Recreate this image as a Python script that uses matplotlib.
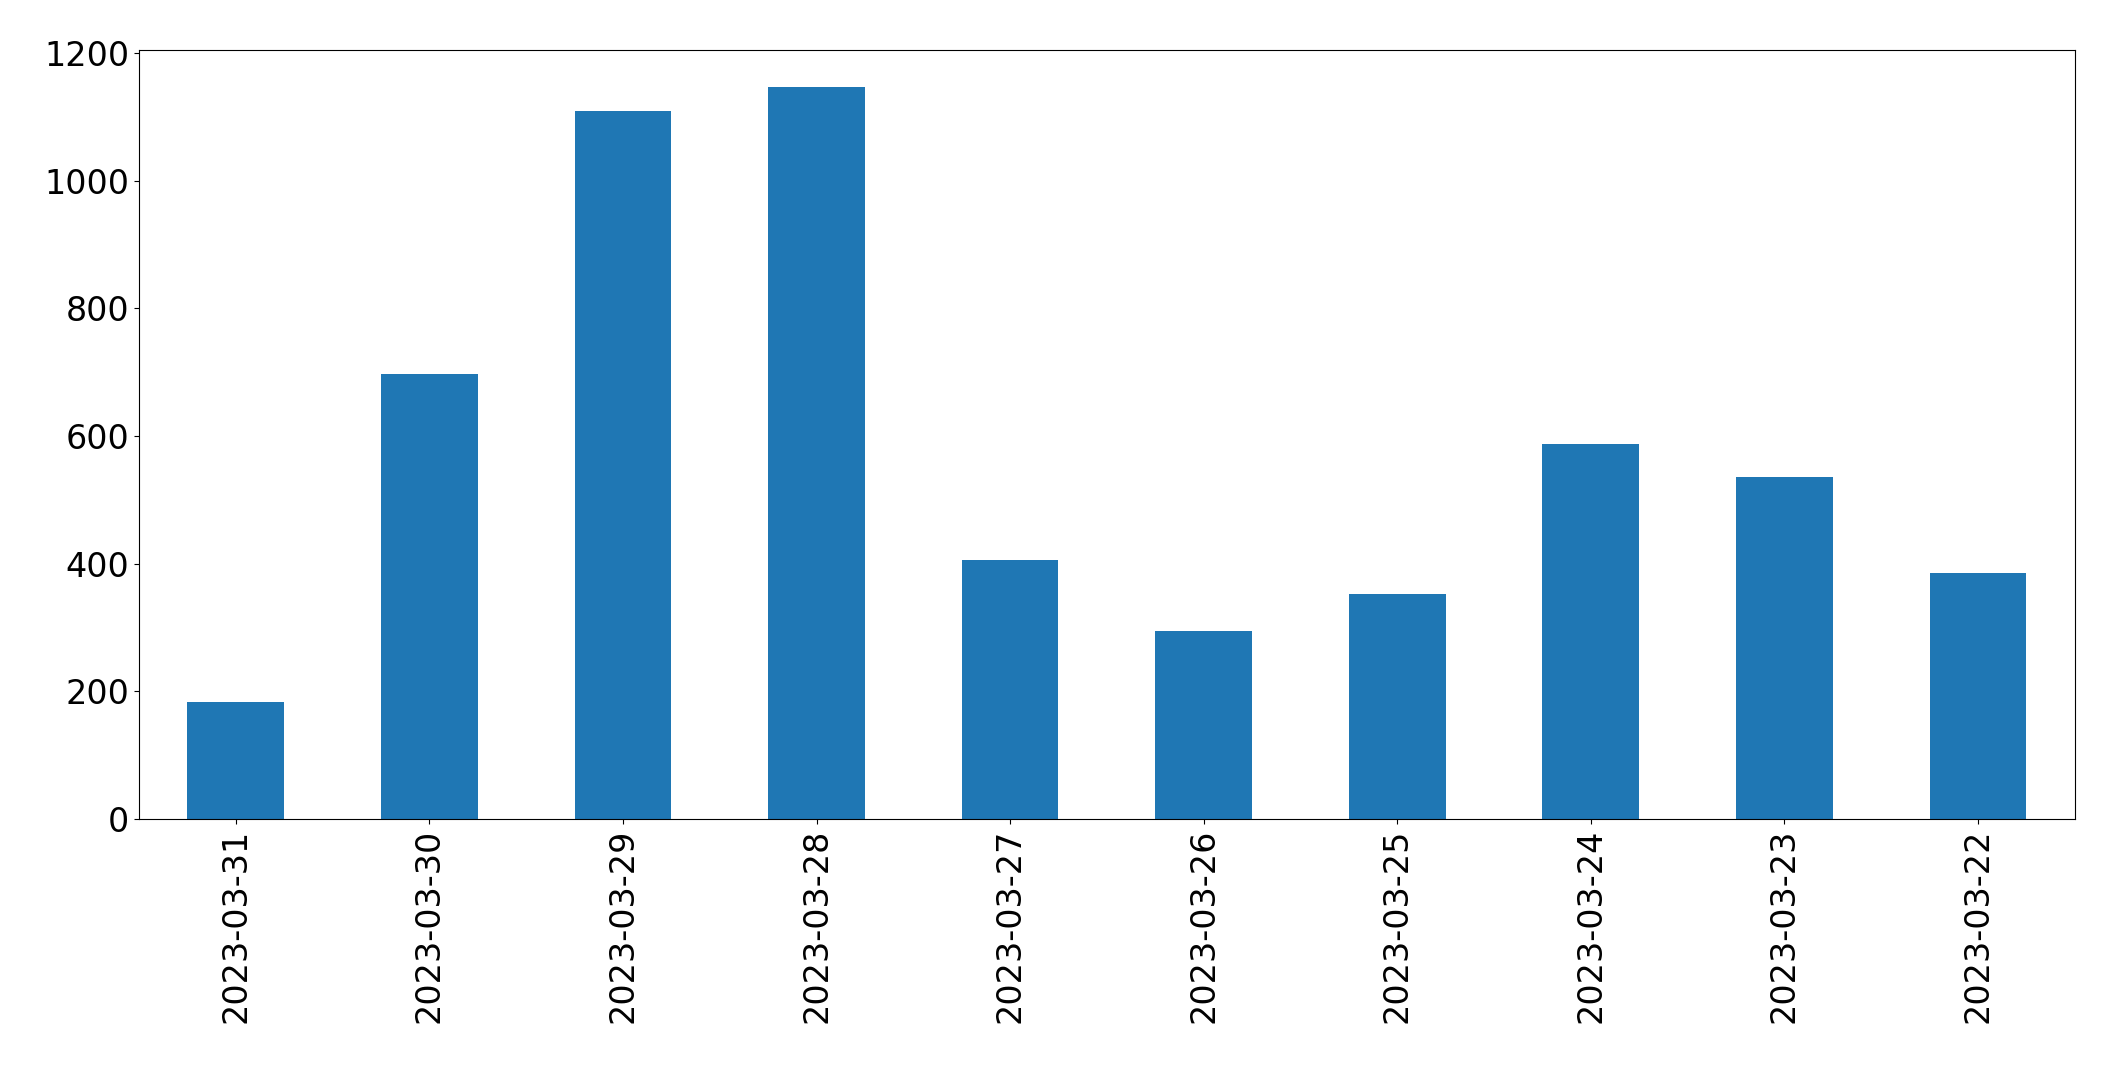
import matplotlib
matplotlib.use("Agg")
import matplotlib.pyplot as plt
import numpy as np

dates = ["2023-03-31", "2023-03-30", "2023-03-29", "2023-03-28", "2023-03-27",
         "2023-03-26", "2023-03-25", "2023-03-24", "2023-03-23", "2023-03-22"]
counts = [183, 697, 1109, 1148, 405, 295, 352, 588, 536, 385]

fig = plt.figure(figsize=(21.15, 10.71), dpi=100)
ax = fig.add_axes([0.0657, 0.2355, 0.9153, 0.7179])

x = np.arange(len(dates))
ax.bar(x, counts, width=0.5, color="#1f77b4")
ax.set_xlim(-0.5, len(dates) - 0.5)
ax.set_ylim(0, max(counts) * 1.05)
ax.set_xticks(x)
ax.set_xticklabels(dates, rotation=90)
ax.tick_params(labelsize=24)

fig.savefig("out.png", dpi=100)
